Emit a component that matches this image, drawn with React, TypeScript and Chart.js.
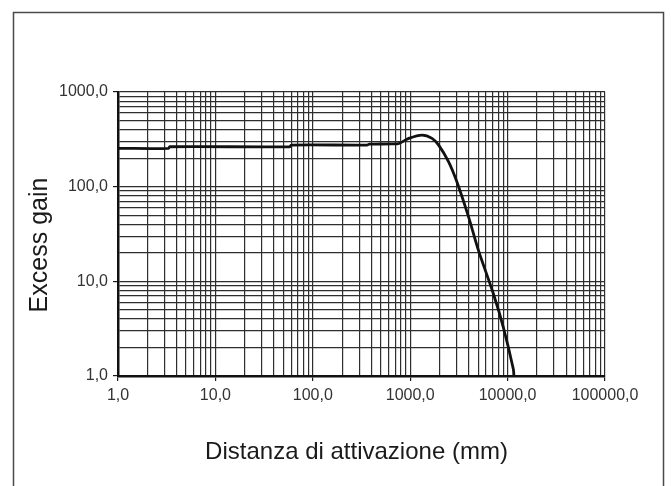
import React, { useEffect, useRef } from "react";
import { Chart, registerables } from "chart.js";

Chart.register(...registerables);

// Distance (mm) on a log axis, excess gain on a log axis
const distanceMm: number[] = [
  1, 3.3, 3.4, 58, 60, 360, 380, 650, 765, 968, 1324, 1675, 1960, 2480, 3020,
  3980, 5020, 7160, 9060, 11460, 11600,
];
const excessGain: number[] = [
  254, 254, 264, 264, 275, 275, 281, 283, 286, 324, 351, 324, 275, 183, 112,
  47.7, 21.2, 7.35, 3.25, 1.18, 1.0,
];

const xDecades: number[] = [1, 10, 100, 1000, 10000, 100000];
const yDecades: number[] = [1, 10, 100, 1000];
const xTickLabels: string[] = ["1,0", "10,0", "100,0", "1000,0", "10000,0", "100000,0"];
const yTickLabels: string[] = ["1,0", "10,0", "100,0", "1000,0"];

const xTitle = "Distanza di attivazione (mm)";
const yTitle = "Excess gain";

const FONT = "'Liberation Sans', Arial, Helvetica, sans-serif";

function logTicks(decades: number[]): { value: number; major: boolean }[] {
  const out: { value: number; major: boolean }[] = [];
  for (let i = 0; i < decades.length; i++) {
    const d = decades[i];
    out.push({ value: d, major: true });
    if (i < decades.length - 1) {
      for (let k = 2; k <= 9; k++) out.push({ value: d * k, major: false });
    }
  }
  return out;
}

function labelFor(value: number, decades: number[], labels: string[]): string {
  for (let i = 0; i < decades.length; i++) {
    if (Math.abs(value - decades[i]) < 1e-9 * decades[i]) return labels[i];
  }
  return "";
}

const frameBox = {
  id: "frameBox",
  beforeDraw(chart: any) {
    const ctx = chart.ctx;
    ctx.save();
    ctx.fillStyle = "#ffffff";
    ctx.fillRect(0, 0, chart.width, chart.height);
    ctx.strokeStyle = "#4a4a4a";
    ctx.lineWidth = 1.5;
    ctx.beginPath();
    ctx.moveTo(13.5, chart.height + 5);
    ctx.lineTo(13.5, 12.5);
    ctx.lineTo(663.5, 12.5);
    ctx.lineTo(663.5, chart.height + 5);
    ctx.stroke();
    ctx.restore();
  },
  afterDraw(chart: any) {
    const ctx = chart.ctx;
    const area = chart.chartArea;
    ctx.save();
    ctx.fillStyle = "#1a1a1a";
    ctx.textAlign = "center";
    ctx.textBaseline = "middle";
    ctx.font = `24px ${FONT}`;
    ctx.fillText(xTitle, (area.left + area.right) / 2 - 5, 452);
    ctx.font = `25px ${FONT}`;
    ctx.translate(40, (area.top + area.bottom) / 2 + 11);
    ctx.rotate(-Math.PI / 2);
    ctx.fillText(yTitle, 0, 0);
    ctx.restore();
  },
};

export default function App() {
  const ref = useRef<HTMLCanvasElement | null>(null);

  useEffect(() => {
    document.body.style.margin = "0";
    const canvas = ref.current;
    if (!canvas) return;
    const gridTick = (ctx: any) => (ctx.tick && ctx.tick.major ? "#1a1a1a" : "rgba(0,0,0,0)");
    const chart = new Chart(canvas, {
      type: "line",
      data: {
        datasets: [
          {
            data: distanceMm.map((x, i) => ({ x, y: excessGain[i] })),
            borderColor: "#111111",
            borderWidth: 2.8,
            pointRadius: 0,
            tension: 0.3,
            fill: false,
          },
        ],
      },
      options: {
        animation: false,
        responsive: false,
        layout: { padding: { left: 20, right: 66, top: 92, bottom: 22 } },
        plugins: { legend: { display: false }, tooltip: { enabled: false } },
        scales: {
          x: {
            type: "logarithmic",
            min: 1,
            max: 100000,
            afterBuildTicks: (scale: any) => {
              scale.ticks = logTicks(xDecades);
            },
            afterFit: (scale: any) => {
              scale.height = 486 - 22 - 376;
            },
            ticks: {
              autoSkip: false,
              maxRotation: 0,
              minRotation: 0,
              padding: 5,
              color: "#333333",
              font: { family: FONT, size: 16 },
              callback: (v: any) => labelFor(Number(v), xDecades, xTickLabels),
            },
            grid: {
              color: "#2e2e2e",
              lineWidth: 1.2,
              tickLength: 5,
              tickColor: gridTick,
            },
            border: { color: "#111111", width: 2.5 },
          },
          y: {
            type: "logarithmic",
            min: 1,
            max: 1000,
            afterBuildTicks: (scale: any) => {
              scale.ticks = logTicks(yDecades);
            },
            afterFit: (scale: any) => {
              scale.width = 118 - 20;
            },
            ticks: {
              autoSkip: false,
              padding: 5,
              color: "#333333",
              font: { family: FONT, size: 16 },
              callback: (v: any) => labelFor(Number(v), yDecades, yTickLabels),
            },
            grid: {
              color: "#2e2e2e",
              lineWidth: 1.2,
              tickLength: 5,
              tickColor: gridTick,
            },
            border: { color: "#111111", width: 2.5 },
          },
        },
      },
      plugins: [frameBox],
    });
    return () => chart.destroy();
  }, []);

  return (
    <div style={{ width: 671, height: 486 }}>
      <canvas ref={ref} width={671} height={486} style={{ display: "block" }} />
    </div>
  );
}
